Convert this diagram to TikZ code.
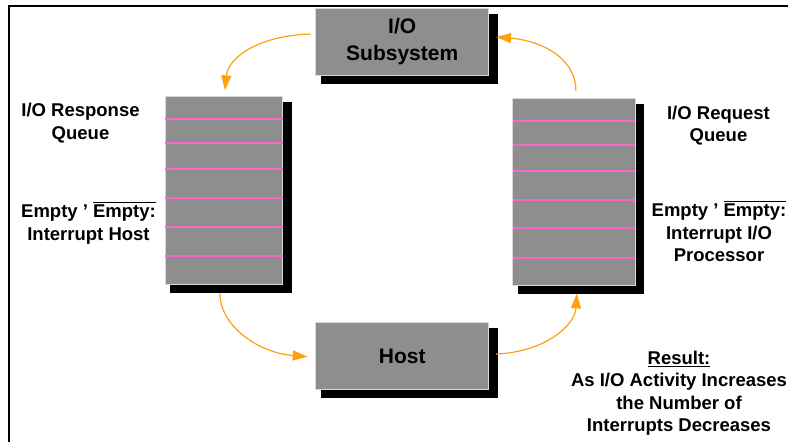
\documentclass[tikz,border=0pt]{standalone}
\usepackage{fontspec}
\setmainfont{Liberation Sans}
\usetikzlibrary{arrows.meta,calc,backgrounds}

\definecolor{boxgray}{HTML}{8E8E8E}
\definecolor{qline}{HTML}{F766C8}
\definecolor{flow}{HTML}{FFA10F}

% words with a rule above or below them
\newsavebox\markbox
\newcommand\overword[1]{\sbox\markbox{#1}\rlap{\rule[\dimexpr\ht\markbox+1.8pt\relax]{\wd\markbox}{1.3pt}}\usebox\markbox}
\newcommand\underword[1]{\sbox\markbox{#1}\rlap{\rule[-3pt]{\wd\markbox}{1.3pt}}\usebox\markbox}

\tikzset{
  unitbox/.style={draw=gray!30, line width=0.7pt, fill=boxgray, inner sep=0pt,
    font=\fontsize{21}{26.5}\selectfont\bfseries, align=center},
  flowarrow/.style={draw=flow, line width=1.2pt, -{Triangle[length=15pt,width=10pt]}},
  sidelabel/.style={font=\fontsize{18.5}{22.5}\selectfont\bfseries, align=center,
    anchor=base, inner sep=0pt},
  queueline/.style={draw=qline, line width=2pt},
  dropshade/.style={fill=black}
}

\begin{document}
\begin{tikzpicture}[x=1pt,y=-1pt]
\useasboundingbox (0,0) rectangle (788,442);

% frame
\draw[line width=2pt] (9,442) -- (9,6) -- (788,6);

% boxes
\node[unitbox, minimum width=173pt, minimum height=67pt] (sub) at (402.2,41.5) {I/O\\Subsystem};
\node[unitbox, minimum width=173pt, minimum height=66.7pt] (host) at (402.2,356) {Host};
\node[unitbox, minimum width=117.7pt, minimum height=187.3pt] (lq) at (223.9,190.4) {};
\node[unitbox, minimum width=122.3pt, minimum height=186.7pt] (rq) at (573.9,191.7) {};

% shadows
\begin{scope}[on background layer]
  \foreach \b in {sub,host,lq,rq}
    \fill[dropshade] ($(\b.north west)+(5.5,6)$) rectangle ($(\b.south east)+(8.5,8.5)$);
\end{scope}

% queue slots
\foreach \d in {22.25,46.25,72.25,101.25,130.25,159.25}
  \draw[queueline] ($(lq.north west)+(0.6,\d)$) -- ($(lq.north east)+(-0.6,\d)$);
\foreach \d in {22.65,46.65,72.65,101.65,129.65,159.65}
  \draw[queueline] ($(rq.north west)+(0.6,\d)$) -- ($(rq.north east)+(-0.6,\d)$);

% flow between the units
\draw[flowarrow] ($(sub.west)+(-4.7,-7.5)$) .. controls +(-56,2) and +(3,-31) .. ($(lq.north)+(1,-6)$);
\draw[flowarrow] ($(rq.north)+(2,-7)$) .. controls +(0,-36) and +(40,3) .. ($(sub.east)+(7,-4.5)$);
\draw[flowarrow] ($(lq.south)+(-4,9)$) .. controls +(0,32) and +(-50,-4) .. ($(host.west)+(-7.7,0.7)$);
\draw[flowarrow] ($(host.east)+(7,-2)$) .. controls +(49,-2) and +(-2,32) .. ($(rq.south)+(3,8)$);

% labels (anchored at the baseline of their last line)
\node[sidelabel] (resp) at (80.5,139) {I/O Response\\Queue};
\node[sidelabel] (respnote) at (88.5,240) {Empty ’ \overword{Empty:}\\Interrupt Host};
\node[sidelabel] (req) at (718.5,141.7) {I/O Request\\Queue};
\node[sidelabel] (reqnote) at (719,261.5) {Empty ’ \overword{Empty:}\\Interrupt I/O\\Processor};
\node[sidelabel] (result) at (679,431.7) {\underword{Result:}\\As I/O Activity Increases\\the Number of\\Interrupts Decreases};
\end{tikzpicture}
\end{document}
